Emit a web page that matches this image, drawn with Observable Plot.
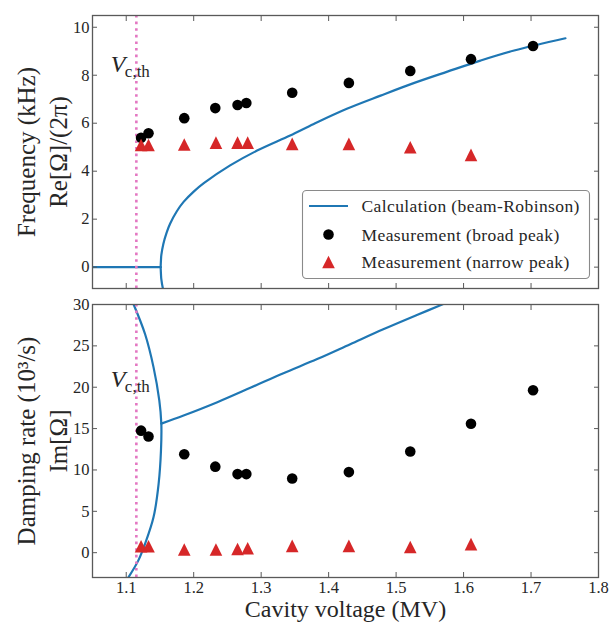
<!DOCTYPE html>
<html>
<head>
<meta charset="utf-8">
<script src="https://cdn.jsdelivr.net/npm/d3@7"></script>
<script src="https://cdn.jsdelivr.net/npm/@observablehq/plot@0.6"></script>
<style>
  body { margin: 0; background: #fff; }
  #fig { position: relative; width: 610px; height: 624px; overflow: hidden; }
  #fig svg { position: absolute; left: 0; }
</style>
</head>
<body>
<div id="fig"></div>
<script>
// ---- measured peaks (cavity voltage in MV) ----
const voltageBroad  = [1.122, 1.133, 1.186, 1.232, 1.265, 1.278, 1.346, 1.430, 1.521, 1.611, 1.703];
const freqBroad     = [5.39, 5.58, 6.21, 6.63, 6.76, 6.84, 7.27, 7.68, 8.18, 8.67, 9.22];   // kHz
const dampBroad     = [14.75, 14.05, 11.9, 10.4, 9.5, 9.5, 8.97, 9.74, 12.23, 15.58, 19.64]; // 10^3/s

const voltageNarrow = [1.122, 1.133, 1.186, 1.233, 1.265, 1.280, 1.346, 1.430, 1.521, 1.611];
const freqNarrow    = [5.09, 5.09, 5.11, 5.19, 5.19, 5.19, 5.14, 5.14, 5.00, 4.68];
const dampNarrow    = [0.78, 0.78, 0.38, 0.38, 0.44, 0.54, 0.82, 0.82, 0.68, 1.04];

// threshold cavity voltage
const vThreshold = 1.115;

// ---- beam-Robinson calculation ----
// real part below the bifurcation (purely damped roots)
const calcZeroV = [1.05, 1.151];
const calcZero  = [0, 0];
// real part of the complex pair above the bifurcation (upper root)
const calcReV = [1.151, 1.1515, 1.152, 1.155, 1.160, 1.165, 1.175, 1.185, 1.200, 1.215, 1.254, 1.294, 1.343, 1.378, 1.427, 1.477, 1.526, 1.576, 1.625, 1.675, 1.751];
const calcRe  = [0, 0.3, 0.5, 0.97, 1.45, 1.81, 2.33, 2.72, 3.15, 3.50, 4.24, 4.86, 5.49, 5.97, 6.60, 7.15, 7.67, 8.15, 8.61, 9.03, 9.54];
// two real damping rates that merge at the bifurcation
const calcImSplitV = [1.111, 1.128, 1.1405, 1.149, 1.152, 1.1515, 1.148, 1.1405, 1.128, 1.118, 1.1035];
const calcImSplit  = [30.0, 26.4, 22.4, 18.4, 15.6, 12.35, 8.33, 4.3, 1.09, -0.93, -2.95];
// common damping rate of the complex pair
const calcImPairV = [1.152, 1.185, 1.235, 1.284, 1.333, 1.383, 1.432, 1.481, 1.530, 1.570];
const calcImPair  = [15.6, 16.58, 18.19, 19.93, 21.7, 23.4, 25.2, 27.0, 28.7, 30.05];

// ---- axes ----
const voltageTicks = [1.1, 1.2, 1.3, 1.4, 1.5, 1.6, 1.7, 1.8];
const freqTicks    = [0, 2, 4, 6, 8, 10];
const dampTicks    = [0, 5, 10, 15, 20, 25, 30];
const legendLabels = ["Calculation (beam-Robinson)", "Measurement (broad peak)", "Measurement (narrow peak)"];

const BLUE = "#1f77b4", RED = "#d62728", PINK = "#e377c2", INK = "#262626", EDGE = "#595959";
const SERIF = "'Liberation Serif', 'Times New Roman', serif";

const zip = (xs, ys) => xs.map((x, i) => ({x, y: ys[i]}));

// matplotlib-style "^" marker: isosceles triangle centred on its bounding box
const triangleUp = {
  draw(context, size) {
    const r = Math.sqrt(size / Math.PI);
    context.moveTo(0, -r);
    context.lineTo(r, r);
    context.lineTo(-r, r);
    context.closePath();
  }
};

function frameAxes(yTicks, labelX) {
  const tick = {stroke: EDGE, strokeWidth: 1, fill: "none", label: null};
  return [
    Plot.frame({stroke: EDGE, strokeWidth: 1.3}),
    // inward ticks on all four sides
    Plot.axisY(yTicks, {...tick, anchor: "left", tickSize: 5, dx: 5}),
    Plot.axisY(yTicks, {...tick, anchor: "right", tickSize: 5, dx: -5}),
    Plot.axisX(voltageTicks, {...tick, anchor: "bottom", tickSize: 5, dy: -5}),
    Plot.axisX(voltageTicks, {...tick, anchor: "top", tickSize: 5, dy: 5}),
    // tick labels
    Plot.axisY(yTicks, {anchor: "left", tickSize: 0, tickPadding: 3, label: null, fill: INK, fontSize: 16.5}),
    ...(labelX ? [Plot.axisX(voltageTicks, {anchor: "bottom", tickSize: 0, tickPadding: 4, label: null,
      tickFormat: d3.format(".1f"), fill: INK, fontSize: 16.5})] : [])
  ];
}

function yTitle(lines) {
  return lines.map(([t, dx]) => Plot.text([t], {
    text: d => d, frameAnchor: "left", rotate: -90, dx, fill: INK, fontSize: 25,
    textAnchor: "middle", lineAnchor: "middle"
  }));
}

function thresholdLabel(y) {
  return [
    Plot.text(["V"], {x: () => vThreshold, y: () => y, text: d => d, textAnchor: "end", lineAnchor: "bottom",
      dx: -11, fontSize: 24, fontStyle: "italic", fill: INK}),
    Plot.text(["c,th"], {x: () => vThreshold, y: () => y, text: d => d, textAnchor: "start", lineAnchor: "bottom",
      dx: -11.5, dy: 4.5, fontSize: 17, fill: INK})
  ];
}

const common = {
  width: 610, marginLeft: 92, marginRight: 12,
  x: {domain: [1.05, 1.8]}
};

// ---- upper panel: oscillation frequency ----
const upperPanel = Plot.plot({
  ...common,
  height: 296, marginTop: 15, marginBottom: 8,
  y: {domain: [-0.89, 10.49]},
  style: {fontFamily: SERIF, background: "transparent", overflow: "visible", top: "0px"},
  marks: [
    Plot.line(zip(calcZeroV, calcZero), {x: "x", y: "y", stroke: BLUE, strokeWidth: 2.2, clip: true}),
    Plot.line(zip(calcReV, calcRe), {x: "x", y: "y", stroke: BLUE, strokeWidth: 2.2, curve: "catmull-rom", clip: true}),
    Plot.line(zip(calcReV, calcRe.map(v => -v)), {x: "x", y: "y", stroke: BLUE, strokeWidth: 2.2, curve: "catmull-rom", clip: true}),
    Plot.ruleX([vThreshold], {stroke: PINK, strokeWidth: 2.6, strokeDasharray: "2.6,4"}),
    Plot.dot(zip(voltageBroad, freqBroad), {x: "x", y: "y", r: 5.3, fill: "black", stroke: null}),
    Plot.dot(zip(voltageNarrow, freqNarrow), {x: "x", y: "y", r: 6.3, symbol: triangleUp, fill: RED, stroke: null}),
    ...thresholdLabel(8.125),
    ...yTitle([["Frequency (kHz)", -66], ["Re[Ω]/(2π)", -34]]),
    ...frameAxes(freqTicks, false)
  ]
});

// ---- lower panel: damping rate ----
const lowerPanel = Plot.plot({
  ...common,
  height: 328, marginTop: 8, marginBottom: 47,
  y: {domain: [-3, 30]},
  style: {fontFamily: SERIF, background: "transparent", overflow: "visible", top: "296px"},
  marks: [
    Plot.line(zip(calcImSplitV, calcImSplit), {x: "x", y: "y", stroke: BLUE, strokeWidth: 2.2, curve: "catmull-rom", clip: true}),
    Plot.line(zip(calcImPairV, calcImPair), {x: "x", y: "y", stroke: BLUE, strokeWidth: 2.2, curve: "catmull-rom", clip: true}),
    Plot.ruleX([vThreshold], {stroke: PINK, strokeWidth: 2.6, strokeDasharray: "2.6,4"}),
    Plot.dot(zip(voltageBroad, dampBroad), {x: "x", y: "y", r: 5.3, fill: "black", stroke: null}),
    Plot.dot(zip(voltageNarrow, dampNarrow), {x: "x", y: "y", r: 6.3, symbol: triangleUp, fill: RED, stroke: null}),
    ...thresholdLabel(20.0),
    ...yTitle([["Damping rate (10³/s)", -66], ["Im[Ω]", -34]]),
    Plot.text(["Cavity voltage (MV)"], {text: d => d, frameAnchor: "bottom", dy: 39.5, lineAnchor: "bottom",
      fill: INK, fontSize: 24, letterSpacing: 1.2}),
    ...frameAxes(dampTicks, true)
  ]
});

const fig = document.getElementById("fig");
fig.append(upperPanel, lowerPanel);

// ---- legend (upper panel, lower right) ----
const legend = d3.create("svg")
  .attr("width", 610).attr("height", 300)
  .style("top", "0px").style("font-family", SERIF);
legend.append("rect")
  .attr("x", 302.5).attr("y", 190.5).attr("width", 287).attr("height", 88).attr("rx", 4)
  .attr("fill", "white").attr("fill-opacity", 0.9).attr("stroke", "#8a8a8a").attr("stroke-width", 1.1);
legend.append("line")
  .attr("x1", 309).attr("x2", 348).attr("y1", 206).attr("y2", 206)
  .attr("stroke", BLUE).attr("stroke-width", 2.2);
legend.append("circle").attr("cx", 328.5).attr("cy", 234.5).attr("r", 5.3).attr("fill", "black");
legend.append("path")
  .attr("transform", "translate(328.5,262)")
  .attr("d", d3.symbol(triangleUp, Math.PI * 6.3 * 6.3)())
  .attr("fill", RED);
const rowsY = [212, 240.5, 268];
legendLabels.forEach((t, i) => {
  legend.append("text").attr("x", 361.5).attr("y", rowsY[i])
    .attr("font-size", 17.5).attr("letter-spacing", 0.4).attr("fill", INK).text(t);
});
fig.append(legend.node());
</script>
</body>
</html>
